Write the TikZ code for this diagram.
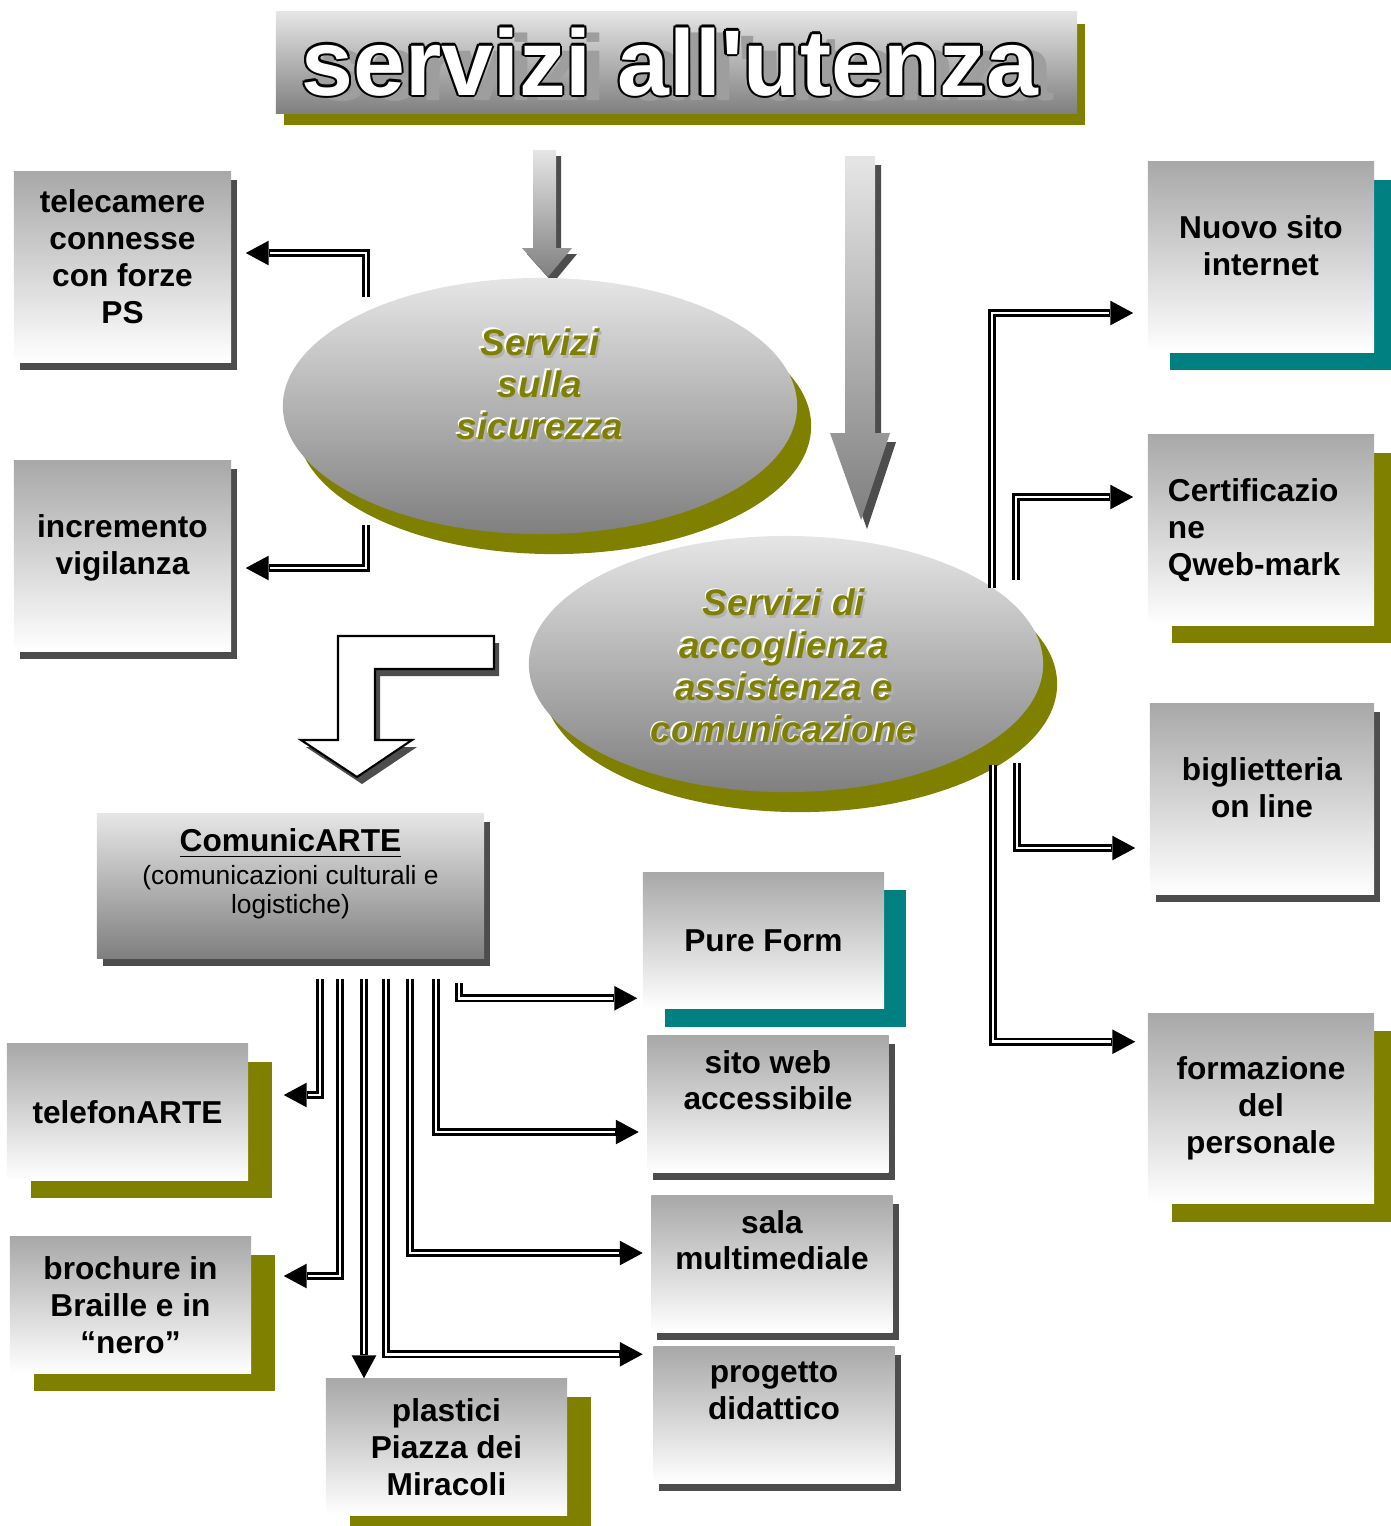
\documentclass[tikz,border=0pt]{standalone}
\usepackage{fontspec}
\setmainfont{Liberation Sans}
\usetikzlibrary{calc,shapes.geometric,shadows,arrows.meta}
\definecolor{oliva}{RGB}{128,128,0}
\definecolor{ottanio}{RGB}{0,128,128}
\definecolor{ombra}{RGB}{77,77,77}
\newcommand\apice{\XeTeXglyph\XeTeXcharglyph"27\relax}
\tikzset{
  casella/.style={top color=black!34, bottom color=white, inner sep=0pt, align=center,
    font=\fontsize{9}{10.5}\selectfont\bfseries},
  alta/.style={minimum width=2.17cm, minimum height=1.9cm},
  altadx/.style={minimum width=2.26cm, minimum height=1.9cm},
  bassa/.style={minimum width=2.41cm, minimum height=1.36cm},
  ombragrigia/.style={general shadow={fill=ombra, shadow xshift=0.06cm, shadow yshift=-0.08cm}},
  ombraoliva/.style={general shadow={fill=oliva, shadow xshift=0.24cm, shadow yshift=-0.18cm}},
  ombrablu/.style={general shadow={fill=ottanio, shadow xshift=0.22cm, shadow yshift=-0.18cm}},
  ovale/.style={ellipse, top color=black!10, bottom color=black!50, inner sep=0pt,
    minimum width=5.14cm, minimum height=2.56cm,
    general shadow={fill=oliva, shadow xshift=0.14cm, shadow yshift=-0.2cm}},
  scritta/.style={font=\fontsize{10.5}{12}\selectfont\bfseries\itshape, align=center},
  titolotesto/.style={font=\fontsize{26.5}{30}\selectfont\bfseries, anchor=base, inner sep=0pt},
  legame/.style={draw=white, line width=0.75pt, shorten >=6.8pt,
    preaction={draw=black, line width=2.25pt, shorten >=0pt,
      -{Triangle[length=6.5pt,width=7pt,line width=0pt]}}},
}
\begin{document}
\begin{tikzpicture}[x=0.01cm, y=-0.01cm]
  \useasboundingbox (0,0) rectangle (1391,1526);

  % titolo
  \node[top color=black!10, bottom color=black!50, minimum width=8.01cm, minimum height=1.01cm,
    general shadow={fill=oliva, shadow xshift=0.08cm, shadow yshift=-0.12cm}] (titolo) at (676.5,62.5) {};
  \node[titolotesto, text=black!38] (titombra) at ($(titolo.center)+(8.5,37.5)$) {servizi all\apice utenza};
  \foreach \a in {0,45,...,315}
    \node[titolotesto, text=black] (tit\a) at ($(titolo.center)+(-6.5,32.5)+(\a:2.2)$) {servizi all\apice utenza};
  \node[titolotesto, text=white] (tit) at ($(titolo.center)+(-6.5,32.5)$) {servizi all\apice utenza};

  % frecce grigie
  \fill[ombra, shift={(5,6)}] (533,150) -- (556,150) -- (556,248) -- (572,248) -- (548,277) -- (522,248) -- (533,248) -- cycle;
  \shade[top color=black!10, bottom color=black!50] (533,150) -- (556,150) -- (556,248) -- (572,248) -- (548,277) -- (522,248) -- (533,248) -- cycle;
  \fill[ombra, shift={(6,9)}] (845,156) -- (875,156) -- (875,433) -- (890,433) -- (861,520) -- (830,433) -- (845,433) -- cycle;
  \shade[top color=black!10, bottom color=black!50] (845,156) -- (875,156) -- (875,433) -- (890,433) -- (861,520) -- (830,433) -- (845,433) -- cycle;

  % freccia bianca piegata
  \fill[ombra, shift={(5,7)}] (338,636) -- (494,636) -- (494,669) -- (375,669) -- (375,740) -- (412,740) -- (357,777) -- (301,740) -- (338,740) -- cycle;
  \draw[fill=white, line width=0.6pt] (338,636) -- (494,636) -- (494,669) -- (375,669) -- (375,740) -- (412,740) -- (357,777) -- (301,740) -- (338,740) -- cycle;

  % ovali
  \node[ovale] (sic) at (540,406) {};
  \node[scritta, text=black!30] (sicombra) at ($(sic.center)+(2,-19)$) {Servizi\\sulla\\sicurezza};
  \node[scritta, text=white] (sicluce) at ($(sic.center)+(-1.5,-23.5)$) {Servizi\\sulla\\sicurezza};
  \node[scritta, text=oliva] (sictesto) at ($(sic.center)+(0,-22)$) {Servizi\\sulla\\sicurezza};

  \node[ovale] (acc) at (786,664) {};
  \node[scritta, text=black!30] (accombra) at ($(acc.center)+(0,5)$) {Servizi di\\accoglienza\\assistenza e\\comunicazione};
  \node[scritta, text=white] (accluce) at ($(acc.center)+(-3.5,0.5)$) {Servizi di\\accoglienza\\assistenza e\\comunicazione};
  \node[scritta, text=oliva] (acctesto) at ($(acc.center)+(-2,2)$) {Servizi di\\accoglienza\\assistenza e\\comunicazione};

  % caselle a sinistra
  \node[casella, alta, ombragrigia] (tele) at (122.5,267) {telecamere\\connesse\\con forze\\PS\\[-7.5pt]\strut};
  \node[casella, alta, ombragrigia] (vig) at (122.5,556) {incremento\\vigilanza\\[-7pt]\strut};

  % caselle a destra
  \node[casella, altadx, ombrablu] (web) at (1261,257) {Nuovo sito\\internet\\[-7pt]\strut};
  \node[casella, altadx, ombraoliva, align=left, text width=1.86cm] (cert) at (1261,530) {Certificazio\\ne\\Qweb-mark};
  \node[casella, altadx, ombragrigia, minimum width=2.24cm] (big) at (1262,799) {biglietteria\\on line\\[-7pt]\strut};
  \node[casella, altadx, ombraoliva] (form) at (1261,1108.5) {formazione\\del\\personale};

  % ComunicARTE
  \node[casella, top color=black!10, bottom color=black!50, minimum width=3.87cm, minimum height=1.44cm,
    ombragrigia] (comu) at (290.5,886)
    {\underline{ComunicARTE}\\[-1pt]
     \mdseries\fontsize{7.5}{8.5}\selectfont(comunicazioni culturali e\\[-2.3pt]
     \mdseries\fontsize{7.5}{8.5}\selectfont logistiche)\\[-5pt]\strut};

  % caselle in basso
  \node[casella, bassa, ombrablu] (pure) at (763.5,940.5) {Pure Form};
  \node[casella, bassa, ombragrigia] (sitoweb) at (768,1104) {sito web\\accessibile\\\strut};
  \node[casella, bassa, ombragrigia] (sala) at (772,1264) {sala\\multimediale\\\strut};
  \node[casella, bassa, ombragrigia] (prog) at (774,1415) {progetto\\didattico\\\strut};
  \node[casella, bassa, ombraoliva] (tel) at (127.5,1112) {telefonARTE};
  \node[casella, bassa, ombraoliva] (broch) at (130.5,1305) {brochure in\\Braille e in\\``nero''};
  \node[casella, bassa, ombraoliva] (plast) at (446.5,1447) {plastici\\Piazza dei\\Miracoli};

  % collegamenti
  \coordinate (a1) at (366,297);
  \coordinate (a2) at (366,525);
  \draw[legame] (a1) |- ($(tele.east)+(14,-14)$);
  \draw[legame] (a2) |- ($(vig.east)+(14,12)$);

  \coordinate (b1) at (320,979);
  \coordinate (b2) at (340,979);
  \coordinate (b3) at (364,979);
  \coordinate (b4) at (386,979);
  \coordinate (b5) at (410,979);
  \coordinate (b6) at (436,979);
  \coordinate (b7) at (459,983);
  \draw[legame] (b1) |- ($(tel.east)+(35,-17)$);
  \draw[legame] (b2) |- ($(broch.east)+(32,-29)$);
  \draw[legame] (b3) -- (b3 |- plast.north);
  \draw[legame] (b4) |- ($(prog.north west)+(-10,8)$);
  \draw[legame] (b5) |- ($(sala.west)+(-8,-11)$);
  \draw[legame] (b6) |- ($(sitoweb.west)+(-8,28)$);
  \draw[legame] (b7) |- ($(pure.south west)+(-5,-11)$);

  \coordinate (d1) at (992,588);
  \coordinate (d2) at (1016,580);
  \coordinate (d3) at (1017,763);
  \coordinate (d4) at (993,765);
  \draw[legame] (d1) |- ($(web.west)+(-14,56)$);
  \draw[legame] (d2) |- ($(cert.west)+(-14,-33)$);
  \draw[legame] (d3) |- ($(big.west)+(-14,49)$);
  \draw[legame] (d4) |- ($(form.north west)+(-12,29)$);
\end{tikzpicture}
\end{document}
